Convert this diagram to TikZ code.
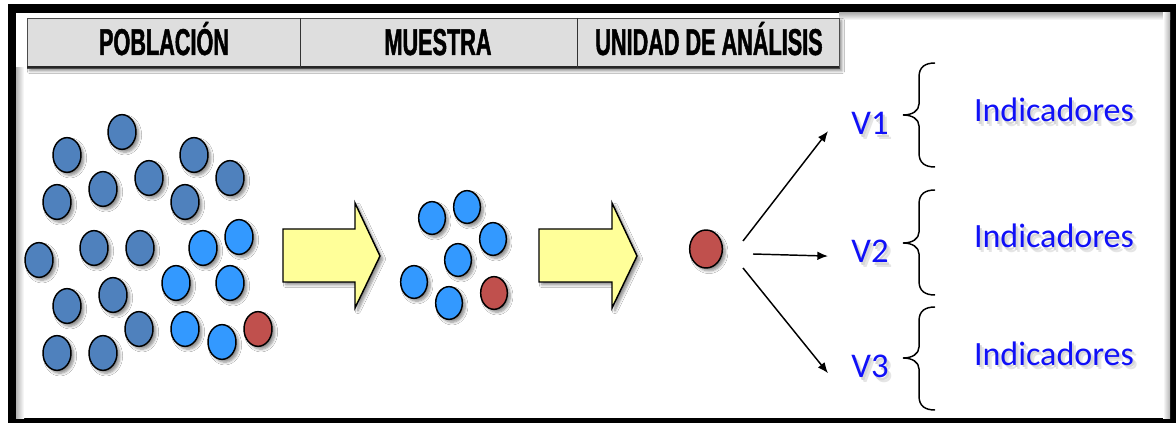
\documentclass[tikz,border=0pt]{standalone}
\usepackage{fontspec}
\usetikzlibrary{shapes.geometric,arrows.meta,shadows.blur}
\newfontfamily\hdrfont[FakeStretch=0.58,FakeBold=1.2]{Liberation Sans}
\newfontfamily\calfont{Carlito}
\definecolor{dblue}{HTML}{4F81BD}
\definecolor{lblue}{HTML}{3399FF}
\definecolor{ured}{HTML}{C0504D}
\definecolor{ayel}{HTML}{FFFF99}
\definecolor{tblue}{HTML}{1010F8}
\definecolor{hgray}{HTML}{DEDEDE}
\newcommand{\shtxt}[1]{\rlap{\kern3pt\raisebox{-3.5pt}{\color{black!10}#1}}\rlap{\kern1.5pt\raisebox{-2pt}{\color{black!16}#1}}#1}
\begin{document}
\begin{tikzpicture}[x=0.75pt,y=-0.75pt,
  shd/.style={blur shadow={shadow xshift=2.2pt, shadow yshift=-2.2pt, shadow opacity=45, shadow blur steps=6, shadow blur radius=2pt}},
  dot/.style={ellipse, draw=black, line width=1.1pt, inner sep=0pt, shd},
  pdot/.style={dot, minimum width=21pt, minimum height=26pt},
  sdot/.style={dot, minimum width=20pt, minimum height=24.5pt},
  hdr/.style={anchor=base, inner sep=0pt, font=\hdrfont\bfseries\fontsize{28}{30}\selectfont},
  vlab/.style={anchor=base, inner sep=0pt, text=tblue, font=\calfont\fontsize{26}{28}\selectfont},
  ilab/.style={anchor=base, inner sep=0pt, text=tblue, font=\calfont\fontsize{25.5}{28}\selectfont},
  blockarrow/.style={fill=ayel, draw=black, line width=1.1pt, line join=miter, shd},
  conn/.style={draw=black, line width=1.1pt, -{Latex[length=8pt,width=6.5pt]}},
  brace/.style={draw=black, line width=1.1pt}]
\useasboundingbox (0,0) rectangle (1176,423);
\fill[white] (0,0) rectangle (1176,423);
% frame
\fill[black] (8,4) rectangle (1176,423);
\fill[white] (16,13) rectangle (1170,418);
\shade[left color=black!30, right color=white] (16,68) rectangle (24,418);
\shade[top color=black!30, bottom color=white] (839,13) rectangle (1170,20);
\shade[left color=white, right color=black!30] (1163,13) rectangle (1170,418);
% header
\fill[hgray, shd] (27,18) rectangle (839,68);
\draw[black!70, line width=0.6pt] (27,18) rectangle (839,68);
\draw[black!85, line width=1.4pt] (27,67) -- (839,67);
\draw[black!80, line width=0.7pt] (300,18) -- (300,68) (577,18) -- (577,68);
\node[hdr] (h1) at (164,55) {POBLACIÓN};
\node[hdr] (h2) at (438,55) {MUESTRA};
\node[hdr] (h3) at (709,55) {UNIDAD DE ANÁLISIS};
% population
\foreach \n/\x/\y in {1/67/155, 2/122/132, 3/194/155, 4/230/178, 5/149/178, 6/103/189, 7/57/202, 8/185/202, 9/39/260, 10/94/248, 11/140/248, 12/67/306, 13/113/295, 14/139/329, 15/57/353, 16/103/353}
  \node[pdot, fill=dblue] (p\n) at (\x,\y) {};
\foreach \n/\x/\y in {17/203/248, 18/239/237, 19/176/283, 20/230/283, 21/185/329, 22/222/342}
  \node[pdot, fill=lblue] (p\n) at (\x,\y) {};
\node[pdot, fill=ured] (p23) at (258,329) {};
% block arrows
\path[blockarrow] (283,229) -- (355,229) -- (355,203) -- (380,256) -- (355,308) -- (355,282) -- (283,282) -- cycle;
\path[blockarrow] (539,229) -- (612,229) -- (612,203) -- (637,256) -- (612,308) -- (612,282) -- (539,282) -- cycle;
% sample
\foreach \n/\x/\y in {1/432/218, 2/467/207, 3/493/239, 4/458/260, 5/414/282, 6/449/303}
  \node[sdot, fill=lblue] (s\n) at (\x,\y) {};
\node[sdot, fill=ured] (s7) at (494,293) {};
% unit
\node[dot, fill=ured, minimum width=24.5pt, minimum height=28.5pt] (u) at (706,249) {};
% variables
\node[vlab] (v1) at (870,135) {\shtxt{V1}};
\node[vlab] (v2) at (870,263) {\shtxt{V2}};
\node[vlab] (v3) at (870,378) {\shtxt{V3}};
\draw[conn] ([shift={(37,-8)}]u.center) -- ([shift={(-42,5)}]v1.center);
\draw[conn] ([shift={(47,5)}]u.center) -- ([shift={(-42,2)}]v2.center);
\draw[conn] ([shift={(37,19)}]u.center) -- ([shift={(-42,4)}]v3.center);
% braces
\foreach \a/\t/\b in {63/115/167, 190/243/295, 307/358/410}
  \draw[brace] (935,\a) .. controls (925,\a) and (919,\a+4) .. (919,\a+14) -- (919,\t-11)
     .. controls (919,\t-4) and (912,\t) .. (903,\t)
     .. controls (912,\t) and (919,\t+4) .. (919,\t+11) -- (919,\b-14)
     .. controls (919,\b-4) and (925,\b) .. (935,\b);
% indicators
\node[ilab] (i1) at (1054,122) {\shtxt{Indicadores}};
\node[ilab] (i2) at (1054,248) {\shtxt{Indicadores}};
\node[ilab] (i3) at (1054,365) {\shtxt{Indicadores}};
\end{tikzpicture}
\end{document}
